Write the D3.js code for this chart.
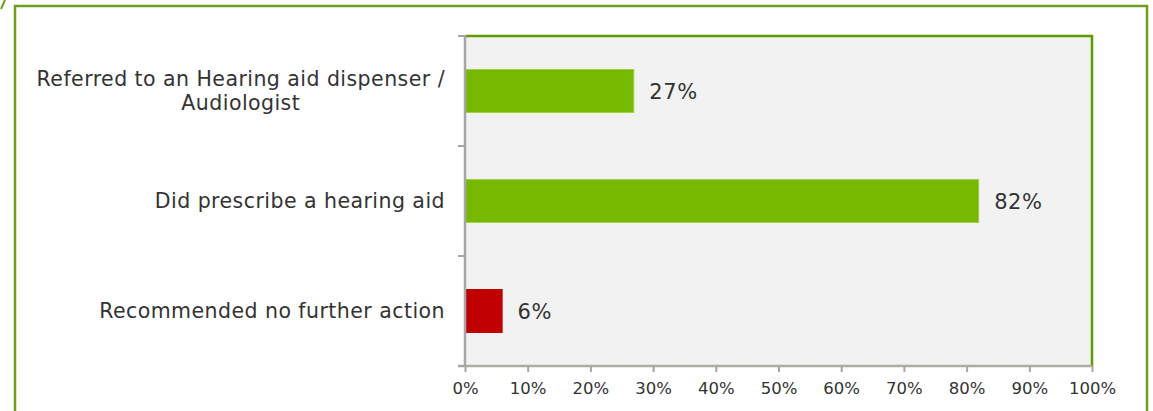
<!DOCTYPE html>
<html>
<head>
<meta charset="utf-8">
<script src="https://cdn.jsdelivr.net/npm/d3@7/dist/d3.min.js"></script>
<style>
  html, body { margin: 0; padding: 0; background: #ffffff; }
  svg { display: block; font-family: "DejaVu Sans", Verdana, sans-serif; }
</style>
</head>
<body>
<svg id="chart" width="1153" height="411"></svg>
<script>
// Responses, one row per category
const categories = [
  ["Referred to an Hearing aid dispenser /", "Audiologist"],
  ["Did prescribe a hearing aid"],
  ["Recommended no further action"]
];
const values = [27, 82, 6];
const barColors = ["#77b800", "#77b800", "#c00000"];
const barEdges = ["#9fd13c", "#9fd13c", "#c00000"];
const tickValues = [0, 10, 20, 30, 40, 50, 60, 70, 80, 90, 100];

const svg = d3.select("#chart");
const plot = { left: 465, right: 1092, top: 36, bottom: 366 };

// Outer frame
svg.append("rect")
  .attr("x", 15).attr("y", 6)
  .attr("width", 1132).attr("height", 420)
  .attr("fill", "none")
  .attr("stroke", "#6f9e1e")
  .attr("stroke-width", 2.5);
svg.append("path")
  .attr("d", "M5,0 L1,9")
  .attr("stroke", "#6f9e1e").attr("stroke-width", 2).attr("fill", "none");

const x = d3.scaleLinear().domain([0, 100]).range([plot.left, plot.right]);
const y = d3.scaleBand()
  .domain(d3.range(categories.length))
  .range([plot.top, plot.bottom])
  .paddingInner(0.6).paddingOuter(0.3);

// Plot background
svg.append("rect")
  .attr("x", plot.left).attr("y", plot.top)
  .attr("width", plot.right - plot.left).attr("height", plot.bottom - plot.top)
  .attr("fill", "#f2f2f2");

// Green frame on top and right of plot
svg.append("path")
  .attr("d", `M${plot.left},${plot.top} H${plot.right} V${plot.bottom}`)
  .attr("fill", "none").attr("stroke", "#5e9a00").attr("stroke-width", 2.5);

// Bars
svg.selectAll("rect.bar").data(values).join("rect")
  .attr("class", "bar")
  .attr("x", x(0) + 0.5)
  .attr("y", (d, i) => y(i) + 0.5)
  .attr("width", d => x(d) - x(0) - 1)
  .attr("height", y.bandwidth() - 1)
  .attr("fill", (d, i) => barColors[i])
  .attr("stroke", (d, i) => barEdges[i])
  .attr("stroke-width", 1);

// Value labels
svg.selectAll("text.val").data(values).join("text")
  .attr("class", "val")
  .attr("x", d => x(d) + 15)
  .attr("y", (d, i) => y(i) + y.bandwidth() / 2)
  .attr("dy", "0.36em")
  .attr("font-size", 21)
  .attr("letter-spacing", 0.6)
  .attr("fill", "#333333")
  .text(d => d + "%");

// X axis
const xAxis = d3.axisBottom(x)
  .tickValues(tickValues)
  .tickSize(6)
  .tickPadding(10)
  .tickFormat(d => d + "%");
const gx = svg.append("g")
  .attr("transform", `translate(0,${plot.bottom})`)
  .call(xAxis);
gx.select(".domain").attr("stroke", "#a9ae9f").attr("stroke-width", 2.5)
  .attr("d", `M${plot.left - 7},0H${plot.right}`);
gx.selectAll(".tick line").attr("stroke", "#a6a6a6").attr("stroke-width", 2);
gx.selectAll(".tick text")
  .attr("font-family", "DejaVu Sans, Verdana, sans-serif")
  .attr("font-size", 16.5).attr("fill", "#333333");

// Y axis line and category separators
const sepScale = d3.scaleLinear().domain([0, categories.length]).range([plot.top, plot.bottom]);
const gy = svg.append("g");
gy.append("line")
  .attr("x1", plot.left).attr("x2", plot.left)
  .attr("y1", plot.top - 1).attr("y2", plot.bottom + 1)
  .attr("stroke", "#a6a6a6").attr("stroke-width", 2.5);
gy.selectAll("line.sep").data(d3.range(categories.length + 1)).join("line")
  .attr("class", "sep")
  .attr("x1", plot.left - 7).attr("x2", plot.left)
  .attr("y1", d => sepScale(d)).attr("y2", d => sepScale(d))
  .attr("stroke", "#a6a6a6").attr("stroke-width", 2);

// Category labels (multi-line block right-aligned, lines centred within)
const lineH = 24;
categories.forEach((lines, i) => {
  const cy = y(i) + y.bandwidth() / 2;
  const g = svg.append("g");
  const t = g.append("text")
    .attr("font-size", 20.5).attr("fill", "#333333")
    .attr("letter-spacing", 0.45)
    .attr("text-anchor", "middle");
  lines.forEach((ln, j) => {
    t.append("tspan")
      .attr("x", 0)
      .attr("y", cy + (j - (lines.length - 1) / 2) * lineH)
      .attr("dy", "0.36em")
      .text(ln);
  });
  const w = t.node().getBBox().width;
  g.attr("transform", `translate(${plot.left - 20 - w / 2},0)`);
});
</script>
</body>
</html>
